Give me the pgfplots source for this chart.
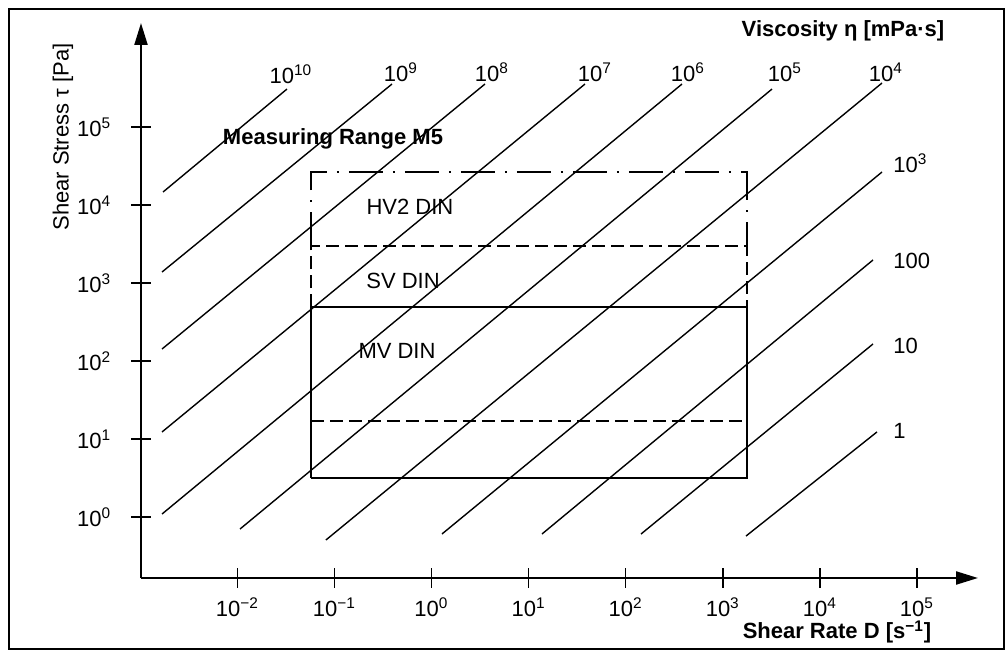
\documentclass[border=0pt]{standalone}
\usepackage{pgfplots}
\pgfplotsset{compat=1.18}
\usepackage{fontspec}
\setmainfont{Liberation Sans}
\usetikzlibrary{arrows.meta}
\begin{document}
\fontsize{11}{13}\selectfont
\begin{tikzpicture}
\path[use as bounding box] (0,0) rectangle (504pt,-325.5pt);
\begin{axis}[
  at={(70.5pt,-289pt)}, anchor=south west,
  scale only axis, width=418.5pt, height=277.5pt,
  xmode=log, ymode=log,
  xmin=1.019e-3, xmax=4.25e5, ymin=0.1669, ymax=2.146e6,
  axis lines=left,
  axis line style={line width=1.1pt, -{Triangle[length=11pt,width=6.5pt]}},
  clip=false,
  xminorticks=false, yminorticks=false,
  major tick length=10pt, tick align=center,
  tick style={black, line width=0.8pt},
  xtick={1e-2,1e-1,1,10,100,1000,1e4,1e5},
  xticklabels={10\textsuperscript{−2},10\textsuperscript{−1},10\textsuperscript{0},10\textsuperscript{1},10\textsuperscript{2},10\textsuperscript{3},10\textsuperscript{4},10\textsuperscript{5}},
  ytick={1,10,100,1000,1e4,1e5},
  yticklabels={10\textsuperscript{0},10\textsuperscript{1},10\textsuperscript{2},10\textsuperscript{3},10\textsuperscript{4},10\textsuperscript{5}},
  tick label style={font=\fontsize{11}{13}\selectfont},
  xticklabel style={yshift=-1pt},
  yticklabel style={xshift=-6pt},
]
% viscosity lines (eta in mPa s)
\addplot[black, line width=0.7pt] coordinates {(1.72e-3,1.469e4) (3.25e-2,3.06e5)};   % 1e10
\addplot[black, line width=0.7pt] coordinates {(1.679e-3,1387) (0.392,3.548e5)};       % 1e9
\addplot[black, line width=0.7pt] coordinates {(1.679e-3,143.2) (3.556,3.548e5)};      % 1e8
\addplot[black, line width=0.7pt] coordinates {(1.679e-3,12.39) (38.1,3.548e5)};       % 1e7
\addplot[black, line width=0.7pt] coordinates {(1.679e-3,1.102) (380.2,3.548e5)};      % 1e6
\addplot[black, line width=0.7pt] coordinates {(1.067e-2,0.708) (3214,3.06e5)};        % 1e5
\addplot[black, line width=0.7pt] coordinates {(8.18e-2,0.512) (4.365e4,3.656e5)};     % 1e4
\addplot[black, line width=0.7pt] coordinates {(1.282,0.611) (4.365e4,2.649e4)};       % 1e3
\addplot[black, line width=0.7pt] coordinates {(13.74,0.611) (3.524e4,1977)};          % 100
\addplot[black, line width=0.7pt] coordinates {(143.9,0.611) (3.524e4,166.0)};         % 10
\addplot[black, line width=0.7pt] coordinates {(1734,0.575) (3.873e4,12.39)};          % 1
% measuring ranges
\addplot[black, line width=0.7pt, dash pattern=on 17pt off 5pt on 1pt off 5pt]
  coordinates {(0.0574,2985) (0.0574,2.649e4) (1774,2.649e4) (1774,2985)};           % HV2 DIN
\addplot[black, line width=0.7pt, dash pattern=on 6.5pt off 3pt]
  coordinates {(0.0574,494) (0.0574,2985) (1774,2985) (1774,494)};                   % SV DIN upper
\addplot[black, line width=0.7pt, dash pattern=on 6.5pt off 3pt]
  coordinates {(0.0574,17.1) (1774,17.1)};                                           % SV DIN lower
\addplot[black, line width=0.7pt]
  coordinates {(0.0574,3.19) (0.0574,494) (1774,494) (1774,3.19) (0.0574,3.19)};     % MV DIN
\end{axis}
\begin{scope}[x=0.5pt,y=-0.5pt]
\draw[line width=1.2pt] (9,9) rectangle (1004,649);
% line labels
\node at (291,74) {10\textsuperscript{10}};
\node at (401,72) {10\textsuperscript{9}};
\node at (492,72) {10\textsuperscript{8}};
\node at (595,72) {10\textsuperscript{7}};
\node at (688,72) {10\textsuperscript{6}};
\node at (785,72) {10\textsuperscript{5}};
\node at (886,72) {10\textsuperscript{4}};
\node[anchor=west, inner sep=0pt] at (893,163) {10\textsuperscript{3}};
\node[anchor=west, inner sep=0pt] at (893,261) {100};
\node[anchor=west, inner sep=0pt] at (893,346) {10};
\node[anchor=west, inner sep=0pt] at (893,431) {1};
\node[font=\bfseries\fontsize{11}{13}\selectfont] at (843,31) {Viscosity η [mPa·s]};
\node[font=\bfseries\fontsize{11}{13}\selectfont] at (837,632) {Shear Rate D [s\textsuperscript{−1}]};
\node[rotate=90] at (63,137) {Shear Stress τ [Pa]};
\node[font=\bfseries\fontsize{11}{13}\selectfont] at (333,139) {Measuring Range M5};
\node at (410,207) {HV2 DIN};
\node at (403,281) {SV DIN};
\node at (397,351) {MV DIN};
\end{scope}
\end{tikzpicture}
\end{document}
